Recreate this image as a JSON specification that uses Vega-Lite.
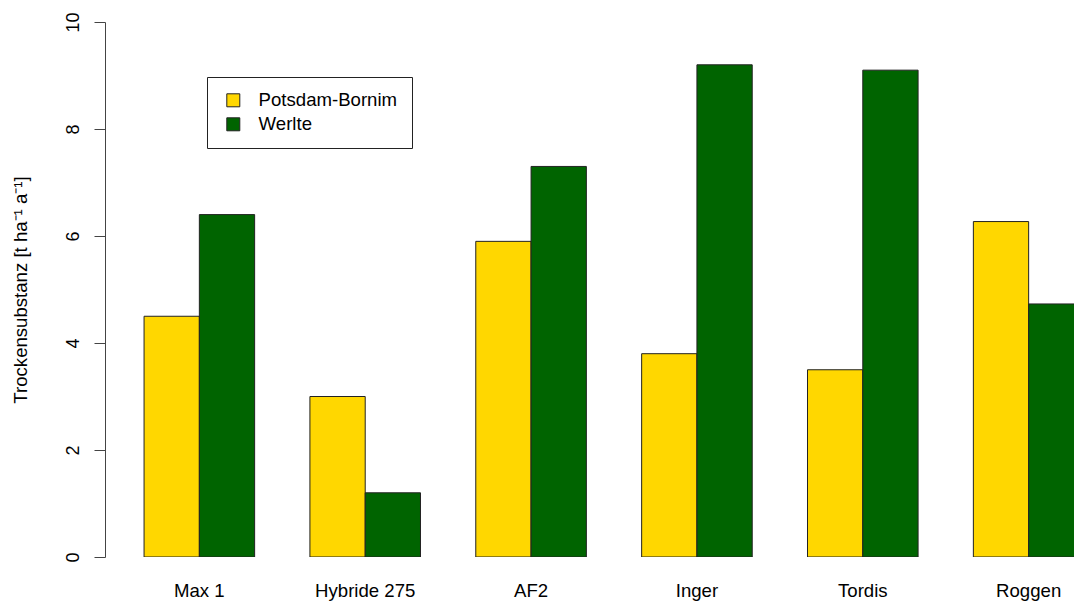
{
  "$schema": "https://vega.github.io/schema/vega-lite/v6.json",
  "width": 969,
  "height": 535,
  "autosize": {"type": "none"},
  "padding": {"left": 105, "top": 22, "right": 0, "bottom": 47},
  "background": "white",
  "config": {
    "view": {"stroke": null},
    "font": "Liberation Sans",
    "axis": {"labelFont": "Liberation Sans", "titleFont": "Liberation Sans", "labelColor": "#000", "titleColor": "#000", "grid": false},
    "legend": {"labelFont": "Liberation Sans"}
  },
  "data": {
    "values": [
      {"sorte": "Max 1", "standort": "Potsdam-Bornim", "ts": 4.5},
      {"sorte": "Max 1", "standort": "Werlte", "ts": 6.4},
      {"sorte": "Hybride 275", "standort": "Potsdam-Bornim", "ts": 3.0},
      {"sorte": "Hybride 275", "standort": "Werlte", "ts": 1.2},
      {"sorte": "AF2", "standort": "Potsdam-Bornim", "ts": 5.9},
      {"sorte": "AF2", "standort": "Werlte", "ts": 7.3},
      {"sorte": "Inger", "standort": "Potsdam-Bornim", "ts": 3.8},
      {"sorte": "Inger", "standort": "Werlte", "ts": 9.2},
      {"sorte": "Tordis", "standort": "Potsdam-Bornim", "ts": 3.5},
      {"sorte": "Tordis", "standort": "Werlte", "ts": 9.1},
      {"sorte": "Roggen", "standort": "Potsdam-Bornim", "ts": 6.27},
      {"sorte": "Roggen", "standort": "Werlte", "ts": 4.73}
    ]
  },
  "mark": {"type": "bar", "stroke": "#222", "strokeWidth": 1, "clip": true},
  "encoding": {
    "x": {
      "field": "sorte",
      "type": "nominal",
      "sort": ["Max 1", "Hybride 275", "AF2", "Inger", "Tordis", "Roggen"],
      "scale": {"range": [0, 1018], "paddingInner": 0.3333, "paddingOuter": 0.2355},
      "axis": {"title": null, "domain": false, "ticks": false, "labelAngle": 0, "labelFontSize": 18.6, "labelPadding": 24, "labelBaseline": "top"}
    },
    "xOffset": {
      "field": "standort",
      "type": "nominal",
      "sort": ["Potsdam-Bornim", "Werlte"],
      "scale": {"paddingInner": 0, "paddingOuter": 0}
    },
    "y": {
      "field": "ts",
      "type": "quantitative",
      "scale": {"domain": [0, 10], "nice": false},
      "axis": {
        "title": "Trockensubstanz [t ha⁻¹ a⁻¹]",
        "titleFontSize": 18.6,
        "titleFontWeight": "normal",
        "titlePadding": 34,
        "values": [0, 2, 4, 6, 8, 10],
        "labelAngle": -90,
        "labelAlign": "center",
        "labelBaseline": "alphabetic",
        "labelFontSize": 18,
        "labelPadding": 16,
        "tickSize": 11,
        "tickColor": "#444",
        "domainColor": "#444",
        "tickWidth": 1,
        "domainWidth": 1
      }
    },
    "color": {
      "field": "standort",
      "type": "nominal",
      "sort": ["Potsdam-Bornim", "Werlte"],
      "scale": {"domain": ["Potsdam-Bornim", "Werlte"], "range": ["#FFD700", "#006400"]},
      "legend": {
        "title": null,
        "orient": "none",
        "legendX": 102,
        "legendY": 55,
        "direction": "vertical",
        "symbolType": "square",
        "symbolSize": 169,
        "symbolStrokeColor": "#222",
        "symbolStrokeWidth": 1,
        "symbolOffset": 3,
        "labelFontSize": 18.6,
        "labelColor": "#000",
        "labelOffset": 16,
        "rowPadding": 5,
        "padding": 14,
        "strokeColor": "#222",
        "fillColor": "white"
      }
    }
  }
}
